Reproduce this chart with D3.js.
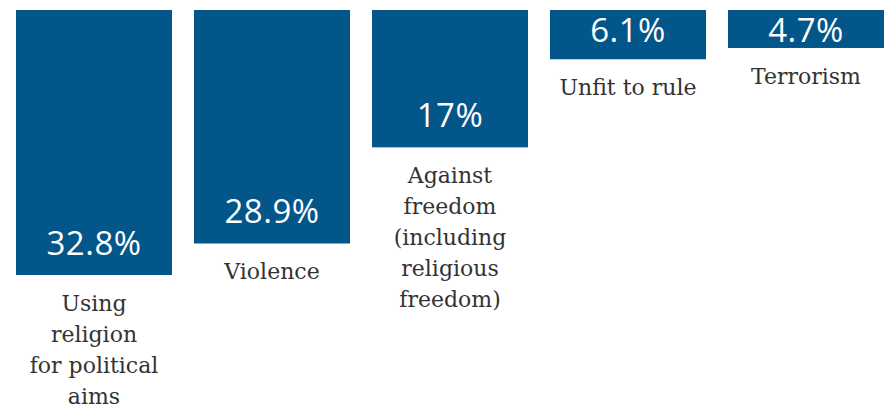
<!DOCTYPE html>
<html>
<head>
<meta charset="utf-8">
<script src="https://cdn.jsdelivr.net/npm/d3@7"></script>
<style>
  body { margin: 0; background: #fff; }
  .catLabel { font-family: "DejaVu Serif", "Liberation Serif", serif; }
</style>
</head>
<body>
<svg id="chart"></svg>
<script>
var categories = ["Using religion for political aims", "Violence", "Against freedom (including religious freedom)", "Unfit to rule", "Terrorism"];
var labelLines = [
    ["Using", "religion", "for political", "aims"],
    ["Violence"],
    ["Against", "freedom", "(including", "religious", "freedom)"],
    ["Unfit to rule"],
    ["Terrorism"]
];
var values = [32.8, 28.9, 17, 6.1, 4.7];
var valueLabels = ["32.8%", "28.9%", "17%", "6.1%", "4.7%"];

var svgWidth = 885;
var svgHeight = 409;
var yTop = 10;
var barColor = "#02568a";

var svg = d3.select("#chart")
    .attr("width", svgWidth)
    .attr("height", svgHeight);

var xScale = d3.scaleBand()
    .domain(categories)
    .range([16, 884])
    .paddingInner(22 / 178)
    .paddingOuter(0);

var yScale = d3.scaleLinear()
    .domain([0, 32.8])
    .range([0, 265]);

var bars = svg.selectAll(".bar")
    .data(categories)
    .enter()
    .append("g")
    .attr("class", "bar");

bars.append("rect")
    .attr("x", d => xScale(d))
    .attr("y", yTop)
    .attr("width", xScale.bandwidth())
    .attr("height", (d, i) => yScale(values[i]))
    .style("fill", barColor);

// value labels sit near the bar end, but never above the top row
bars.append("text")
    .attr("x", d => xScale(d) + xScale.bandwidth() / 2)
    .attr("y", (d, i) => Math.max(yTop + yScale(values[i]) - 20, 42))
    .attr("text-anchor", "middle")
    .attr("fill", "white")
    .attr("font-family", "'Open Sans', sans-serif")
    .attr("font-size", "33px")
    .attr("letter-spacing", "0.5px")
    .text((d, i) => valueLabels[i]);

bars.append("text")
    .attr("class", "catLabel")
    .attr("x", d => xScale(d) + xScale.bandwidth() / 2)
    .attr("y", (d, i) => yTop + yScale(values[i]) + 36)
    .attr("text-anchor", "middle")
    .attr("fill", "#333333")
    .attr("font-size", "22px")
    .each(function(d, i) {
        var t = d3.select(this);
        var x = t.attr("x");
        labelLines[i].forEach(function(line, j) {
            t.append("tspan")
                .attr("x", x)
                .attr("dy", j == 0 ? 0 : 31)
                .text(line);
        });
    });
</script>
</body>
</html>
